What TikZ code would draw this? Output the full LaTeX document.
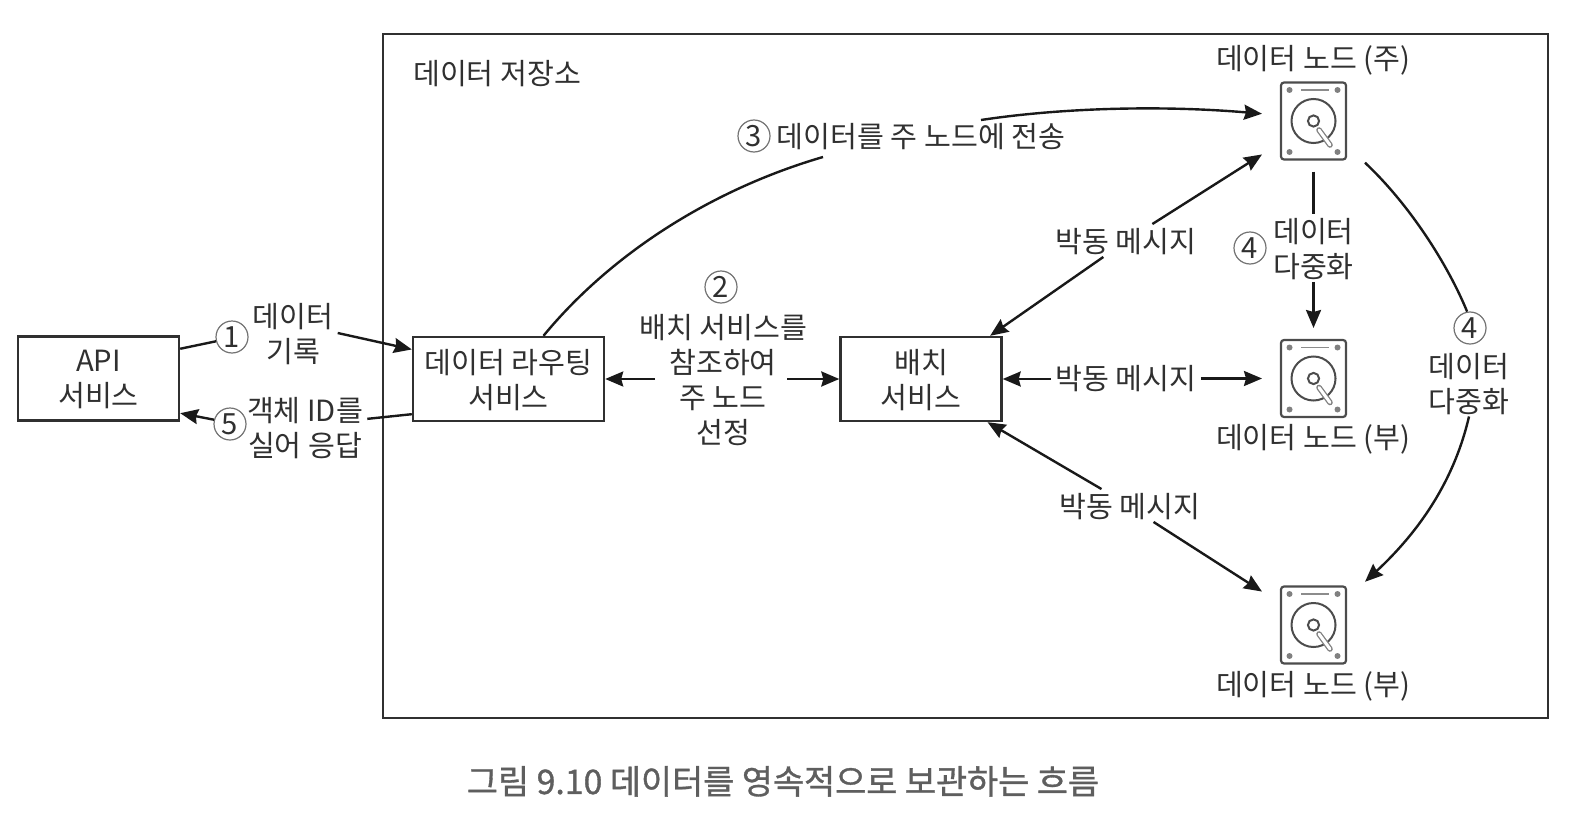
\documentclass[tikz,border=0pt]{standalone}
\usepackage{fontspec}
\setmainfont{Noto Sans CJK KR}
\newfontfamily\capfont[FakeBold=1]{Noto Sans CJK KR}
\usetikzlibrary{arrows.meta}
\definecolor{inkdark}{HTML}{303030}
\definecolor{capgray}{HTML}{5E5E5E}
\begin{document}
\begin{tikzpicture}[x=0.5pt, y=-0.5pt, >={Stealth[length=9pt,width=7.5pt,inset=1pt]}]
        \tikzstyle{every node}=[font=\fontsize{14.6pt}{17.5pt}\selectfont, text=inkdark, text depth=0pt, inner sep=2pt, align=center]
        \tikzstyle{box}=[draw=inkdark, line width=1.2pt, minimum width=80.5pt, minimum height=42pt]
        \tikzstyle{num}=[circle, draw=black!55, line width=0.6pt, inner sep=0pt, minimum size=16pt]
        \tikzstyle{disk}=[draw=black!70, line width=1.1pt, rounded corners=1.5pt, inner sep=0pt, minimum width=32.5pt, minimum height=38.5pt, outer xsep=9.5pt, outer ysep=6pt]
        \tikzstyle{link}=[draw=black!90, line width=1.2pt]
        \useasboundingbox (0,0) rectangle (1578,824);
        \draw [draw=inkdark, line width=1.3pt] (383,34) rectangle (1548,718);
        \node (store) at (497,72) {데이터 저장소};
        \node [box] (api) at (98.5,378.5) {API\\서비스};
        \node [box, minimum width=95.5pt] (route) at (508.5,379) {데이터 라우팅\\서비스};
        \node [box] (batch) at (921,379) {배치\\서비스};
        \foreach \name/\y in {diska/121,diskb/378.5,diskc/625} {
                \node [disk] (\name) at (1313.5,\y) {};
                \draw [black!70, line width=1pt] (1313.5,\y) circle (11pt);
                \draw [black!70, line width=1pt] (1313.5,\y) circle (2.8pt);
                \draw [black!45, line width=0.8pt] (1301,\y-31) -- (1329,\y-31);
                \foreach \dx/\dy in {-24/-31,24/-31,-24/31,24/31} \fill [black!50] (1313.5+\dx,\y+\dy) circle (1.5pt);
                \draw [black!50, line width=2.8pt, line cap=round] (1319,\y+9) -- (1330,\y+24);
                \draw [white, line width=1.5pt, line cap=round] (1319,\y+9) -- (1330,\y+24);
        }
        \node (namea) at (1313,57.5) {데이터 노드 (주)};
        \node (nameb) at (1313,436.5) {데이터 노드 (부)};
        \node (namec) at (1313,683.5) {데이터 노드 (부)};
        \node [num] (one) at (232,337) {1};
        \node (write) at (293,333) {데이터\\기록};
        \node [num] (five) at (230,424) {5};
        \node (reply) at (305,426.5) {객체 ID를\\실어 응답};
        \node [num] (two) at (721,287) {2};
        \node (select) at (723,379) {배치 서비스를\\참조하여\\주 노드\\선정};
        \node [num] (three) at (754,136) {3};
        \node (send) at (921,135.5) {데이터를 주 노드에 전송};
        \node (beata) at (1126,240.5) {박동 메시지};
        \node (beatb) at (1126,377) {박동 메시지};
        \node (beatc) at (1130,505.5) {박동 메시지};
        \node [num] (foura) at (1250,248) {4};
        \node (copya) at (1313.5,248) {데이터\\다중화};
        \node [num] (fourb) at (1470,328) {4};
        \node (copyb) at (1469,382.5) {데이터\\다중화};
        \coordinate (selectl) at (655,379);
        \coordinate (selectr) at (787,379);
        \coordinate (sendl) at (823,157);
        \coordinate (sendr) at (981,120);
        \draw [link] (api.20) -- (one.195);
        \draw [link, ->] (write.east) -- (route.163);
        \draw [link] (route.200) -- (reply.7);
        \draw [link, ->] (five.165) -- (api.-23);
        \draw [link, ->] (selectl) -- (route.east);
        \draw [link, ->] (selectr) -- (batch.west);
        \draw [link] (route.51) .. controls (610,255) and (710,190) .. (sendl);
        \draw [link, ->] (sendr) .. controls (1060,108) and (1160,105) .. (diska.172);
        \draw [link, ->] (beata.32) -- (diska.213);
        \draw [link, ->] (beata.-144) -- (batch.32);
        \draw [link, ->] (batch.east -| beatb.west) -- (batch.east);
        \draw [link, ->] (diskb.west -| beatb.east) -- (diskb.west);
        \draw [link, ->] (beatc.150) -- (batch.-33);
        \draw [link, ->] (beatc.-35) -- (diskc.147);
        \draw [link] (diska.south) -- (copya.north);
        \draw [link, ->] (copya.south) -- (diskb.north);
        \draw [link] (diska.-39) .. controls (1410,205) and (1448,265) .. (fourb.100);
        \draw [link, ->] (copyb.south) .. controls (1452,490) and (1410,540) .. (diskc.40);
        \node [text=capgray, font=\fontsize{16.9pt}{20pt}\capfont] (caption) at (783,780) {그림 9.10 데이터를 영속적으로 보관하는 흐름};
    \end{tikzpicture}
\end{document}
